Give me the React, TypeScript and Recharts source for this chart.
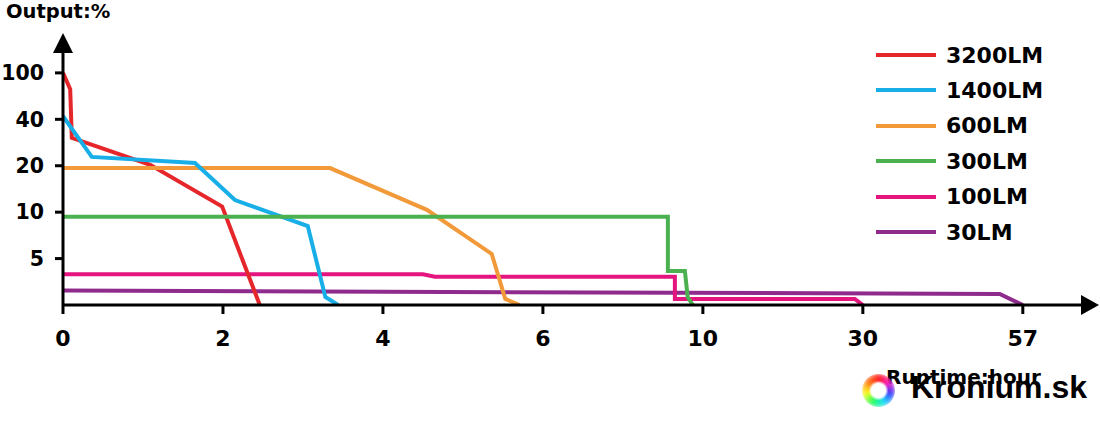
import { LineChart, Line, XAxis, YAxis, ReferenceDot } from 'recharts'

// axis breakpoints: each labelled value sits at equal spacing
const xStops = [0, 2, 4, 6, 10, 30, 57]
const xTickLabels = ['0', '2', '4', '6', '10', '30', '57']
const yStops = [0, 5, 10, 20, 40, 100]
const yTickLabels = ['5', '10', '20', '40', '100']

const seriesNames = ['3200LM', '1400LM', '600LM', '300LM', '100LM', '30LM']
const seriesColors = ['#e5262a', '#18aee8', '#f2993a', '#4bb04f', '#e4157f', '#8f2b8c']

// runtime (hours) / output (%)
const hours3200 = [0, 0.09, 0.11, 1.09, 1.99, 2.46]
const pct3200 = [100, 79, 32, 20.4, 11.2, 0]

const hours1400 = [0, 0.36, 1.65, 2.15, 3.06, 3.28, 3.44]
const pct1400 = [44, 23.8, 21.2, 12.6, 8.5, 0.86, 0]

const hours600 = [0, 3.34, 4.55, 5.36, 5.53, 5.71]
const pct600 = [19.5, 19.5, 10.5, 5.5, 0.65, 0]

const hours300 = [0, 9.125, 9.125, 9.55, 9.62, 9.75]
const pct300 = [9.5, 9.5, 3.66, 3.66, 0.86, 0]

const hours100 = [0, 4.5, 4.65, 9.3, 9.3, 29, 30]
const pct100 = [3.3, 3.3, 3.05, 3.05, 0.65, 0.65, 0]

const hours30 = [0, 53.1, 57]
const pct30 = [1.55, 1.19, 0]

const seriesHours = [hours3200, hours1400, hours600, hours300, hours100, hours30]
const seriesPct = [pct3200, pct1400, pct600, pct300, pct100, pct30]

// piecewise-linear mapping of a real value onto the evenly spaced axis
function toAxis(stops: number[], v: number) {
  for (let i = 1; i < stops.length; i++) {
    if (v <= stops[i]) return i - 1 + (v - stops[i - 1]) / (stops[i] - stops[i - 1])
  }
  return stops.length - 1
}

const series = seriesNames.map((name, i) => ({
  name,
  color: seriesColors[i],
  data: seriesHours[i].map((h, j) => ({ x: toAxis(xStops, h), y: toAxis(yStops, seriesPct[i][j]) })),
}))

const drawOrder = [5, 4, 0, 2, 1, 3]

const X_MAX = 6.37
const Y_MAX = 5.45
const font = "'DejaVu Sans', sans-serif"
const tickStyle = { fill: '#000', fontSize: 22, fontWeight: 700, fontFamily: font }

export default function App() {
  return (
    <div style={{ position: 'absolute', left: 0, top: 0, width: 1100, height: 421, background: '#fff', overflow: 'hidden' }}>
      <LineChart width={1100} height={421} margin={{ top: 52, right: 18, bottom: 76, left: 3 }}>
        <XAxis
          type="number"
          dataKey="x"
          domain={[0, X_MAX]}
          ticks={xTickLabels.map((_, i) => i)}
          tickFormatter={(v: number) => xTickLabels[v] ?? ''}
          interval={0}
          height={40}
          axisLine={{ stroke: '#000', strokeWidth: 3 }}
          tickLine={{ stroke: '#000', strokeWidth: 3 }}
          tickSize={9}
          tickMargin={16}
          tick={tickStyle}
          allowDataOverflow
        />
        <YAxis
          type="number"
          dataKey="y"
          domain={[0, Y_MAX]}
          ticks={yTickLabels.map((_, i) => i + 1)}
          tickFormatter={(v: number) => yTickLabels[v - 1] ?? ''}
          interval={0}
          width={60}
          axisLine={{ stroke: '#000', strokeWidth: 3 }}
          tickLine={{ stroke: '#000', strokeWidth: 3 }}
          tickSize={8}
          tickMargin={11}
          tick={{ ...tickStyle, fontSize: 20.5 }}
          allowDataOverflow
        />
        {drawOrder.map((i) => (
          <Line
            key={series[i].name}
            data={series[i].data}
            dataKey="y"
            name={series[i].name}
            type="linear"
            stroke={series[i].color}
            strokeWidth={4}
            dot={false}
            activeDot={false}
            isAnimationActive={false}
          />
        ))}
        <ReferenceDot
          x={X_MAX}
          y={0}
          r={0}
          ifOverflow="visible"
          shape={(p: any) => (
            <polygon points={`${p.cx - 1},${p.cy - 10} ${p.cx + 17},${p.cy} ${p.cx - 1},${p.cy + 10}`} fill="#000" />
          )}
        />
        <ReferenceDot
          x={0}
          y={Y_MAX}
          r={0}
          ifOverflow="visible"
          shape={(p: any) => (
            <polygon points={`${p.cx - 10},${p.cy + 1} ${p.cx},${p.cy - 19} ${p.cx + 10},${p.cy + 1}`} fill="#000" />
          )}
        />
      </LineChart>

      <div style={{ position: 'absolute', left: 6, top: 2, fontFamily: font, fontWeight: 700, fontSize: 19.5, lineHeight: '19px' }}>
        Output:%
      </div>

      {/* legend */}
      {series.map((s, i) => (
        <div
          key={s.name}
          style={{ position: 'absolute', left: 876, top: 55 + i * 35.4 - 12, height: 24, display: 'flex', alignItems: 'center' }}
        >
          <div style={{ width: 60, height: 4, background: s.color }} />
          <span style={{ marginLeft: 10, fontFamily: font, fontWeight: 700, fontSize: 22, color: '#000' }}>{s.name}</span>
        </div>
      ))}

      <div style={{ position: 'absolute', left: 886, top: 367, fontFamily: font, fontWeight: 700, fontSize: 20, lineHeight: '20px' }}>
        Runtime:hour
      </div>

      {/* watermark */}
      <div
        style={{
          position: 'absolute',
          left: 862,
          top: 374,
          width: 33,
          height: 33,
          borderRadius: '50%',
          background: 'conic-gradient(#ff2020, #ff20c0, #4040ff, #20e0ff, #20ff60, #ffff20, #ff8020, #ff2020)',
          WebkitMaskImage: 'radial-gradient(circle, transparent 7px, #000 10px)',
          maskImage: 'radial-gradient(circle, transparent 7px, #000 10px)',
          filter: 'blur(2px)',
        }}
      />
      <div
        style={{
          position: 'absolute',
          left: 911,
          top: 371,
          fontFamily: "'Liberation Sans', Arial, sans-serif",
          fontWeight: 700,
          fontSize: 32,
          lineHeight: '32px',
          color: '#000',
        }}
      >
        Kronium.sk
      </div>
    </div>
  )
}
